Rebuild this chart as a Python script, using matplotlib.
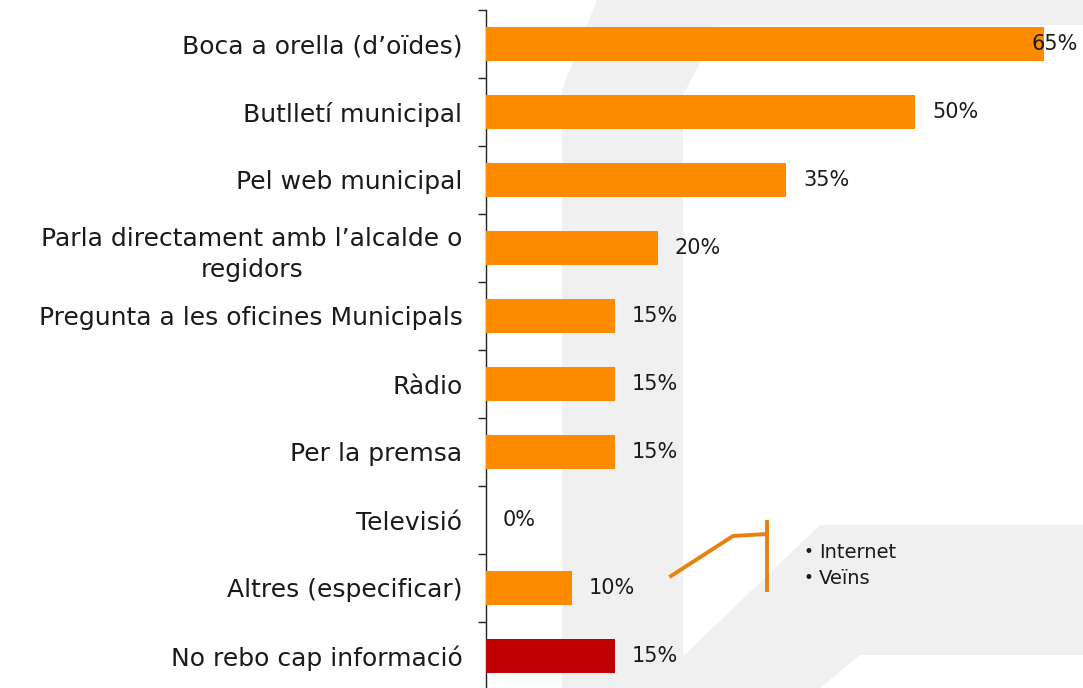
import matplotlib
matplotlib.use("Agg")
import matplotlib.pyplot as plt
from matplotlib.patches import Polygon
from matplotlib.lines import Line2D

# ---- data ----
categories = [
    "Boca a orella (d\u2019oïdes)",
    "Butlletí municipal",
    "Pel web municipal",
    "Parla directament amb l\u2019alcalde o\nregidors",
    "Pregunta a les oficines Municipals",
    "Ràdio",
    "Per la premsa",
    "Televisió",
    "Altres (especificar)",
    "No rebo cap informació",
]
values = [65, 50, 35, 20, 15, 15, 15, 0, 10, 15]
bar_colors = ["#FF8C00"] * 9 + ["#C00000"]
callout_items = ["Internet", "Veïns"]

W, H = 1083, 688
plt.rcParams['font.family'] = ['DejaVu Sans']
fig = plt.figure(figsize=(W / 100, H / 100), dpi=100)
fig.patch.set_facecolor("white")

def fx(px):
    return px / W

def fy(py):
    return 1 - py / H

# faint background watermark shapes (figure coords)
wm = "#F0F0F0"
shapes = [
    [(597, 0), (1083, 0), (1083, 25), (720, 25), (683, 95), (683, 688), (562, 688), (562, 90)],
    [(820, 525), (1083, 525), (1083, 655), (860, 655), (820, 688), (650, 688)],
]
for s in shapes:
    fig.patches.append(Polygon([(fx(x), fy(y)) for x, y in s], closed=True,
                               transform=fig.transFigure, facecolor=wm,
                               edgecolor="none", zorder=0))

# axes: x=0 at px 486, 8.585 px per %, rows 68 px from y=10
x0 = 486
ppu = 8.585
xmax = 70
top_px, bot_px = 10, 690
ax = fig.add_axes([fx(x0), fy(bot_px), (xmax * ppu) / W, (bot_px - top_px) / H])
ax.set_zorder(2)
ax.set_facecolor("none")
n = len(categories)
ypos = list(range(n))
ax.barh(ypos, values, height=0.5, color=bar_colors, zorder=3)
ax.set_ylim(n - 0.5, -0.5)
ax.set_xlim(0, xmax)

for sp in ["top", "right", "bottom"]:
    ax.spines[sp].set_visible(False)
ax.spines["left"].set_color("#222222")
ax.spines["left"].set_linewidth(1.0)
ax.set_xticks([])
ax.set_yticks(ypos)
labels = ax.set_yticklabels(categories, fontsize=18, color="#1a1a1a", linespacing=1.4)
for lab in labels:
    lab.set_multialignment("center")
ax.tick_params(axis="y", which="major", length=0, pad=17)
ax.set_yticks([i - 0.5 for i in range(n + 1)], minor=True)
ax.tick_params(axis="y", which="minor", length=6, width=1.0, color="#222222", direction="out")

# value labels
for i, v in enumerate(values):
    label = f"{v}%"
    end_px = x0 + v * ppu + 14
    if end_px + 48 > W:
        ax.annotate(label, xy=(1, i), xycoords=("figure fraction", "data"),
                    xytext=(-4, 0), textcoords="offset points",
                    ha="right", va="center", fontsize=15, color="#1a1a1a", zorder=4)
    else:
        ax.annotate(label, xy=(v, i), xytext=(12, 0), textcoords="offset points",
                    ha="left", va="center", fontsize=15, color="#1a1a1a", zorder=4)

# callout
lc = "#E8820C"
fig.add_artist(Line2D([fx(671), fx(733), fx(767)], [fy(576), fy(536), fy(534)],
                      transform=fig.transFigure, color=lc, lw=2.8, zorder=5))
fig.add_artist(Line2D([fx(767), fx(767)], [fy(522), fy(590)],
                      transform=fig.transFigure, color=lc, lw=2.8, zorder=5))
for k, item in enumerate(callout_items):
    yy = fy(552 + k * 26)
    fig.text(fx(803), yy, "\u2022", fontsize=12, va="center", ha="left", color="#1a1a1a", zorder=5)
    fig.text(fx(819), yy, item, fontsize=14, va="center", ha="left", color="#1a1a1a", zorder=5)

fig.savefig("out.png", dpi=100)
